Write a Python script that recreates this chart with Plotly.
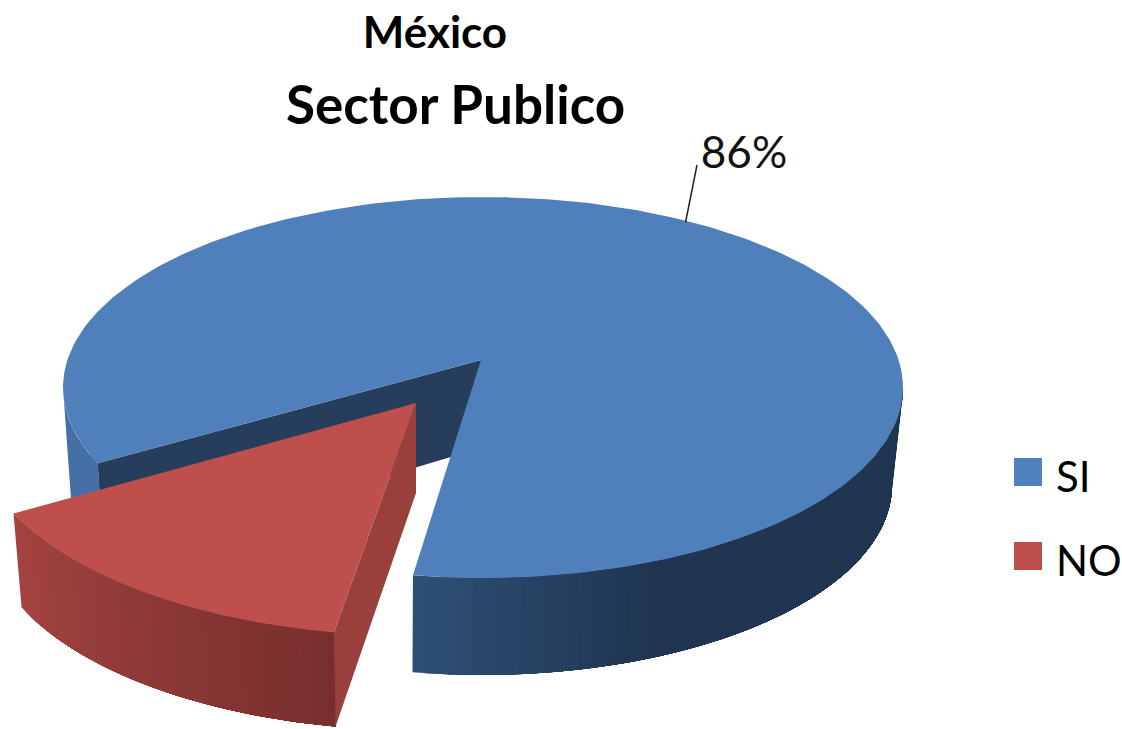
import numpy as np
import plotly.graph_objects as go

# ---- data ----
categories = ["SI", "NO"]
values = [86, 14]
label_text = "86%"
title_main = "México"
title_sub = "Sector Publico"

# ---- drawing constants (3D pie projection) ----
W, H = 1122, 729
CX, CY, RX, RY = 483, 387.5, 420, 190.5      # top ellipse
LCX, LCY, LRX, LRY = 481, 485, 411, 190      # lower ellipse
APEX = (481, 360)
APEX_DEPTH = 88
R_APEX = (416, 403)
R_SX, R_SY = 1.05, 1.07
R_DEPTH, R_SHRINK = 94, 0.02
START = 9.6           # degrees, clockwise from the front of the pie
RED_TRIM = 1.4        # the exploded slice sits slightly differently in perspective
STRETCH = 1.13        # foreshortening of the tilted pie near the front-left
BLUE, RED = "#4F80BC", "#BE4F4C"
INNER, SIDE_LEFT = "#263D5C", "#4570A5"
LEGEND_X, LEGEND_TEXT_X = 1028, 1056
LEGEND_Y = [472, 556]
LEGEND_TEXT_Y = [481, 565]


def top(t):
    t = np.radians(t)
    return CX - RX * np.sin(t), CY + RY * np.cos(t)


def low(t):
    t = np.radians(t)
    return LCX - LRX * np.sin(t), LCY + LRY * np.cos(t)


def red_top(t):
    x, y = top(t)
    return R_APEX[0] + R_SX * (x - APEX[0]), R_APEX[1] + R_SY * (y - APEX[1])


def red_low(t):
    x, y = red_top(t)
    return x + R_SHRINK * (R_APEX[0] - x), y + R_DEPTH


def mix(c1, c2, f):
    a = [int(c1[i:i + 2], 16) for i in (1, 3, 5)]
    b = [int(c2[i:i + 2], 16) for i in (1, 3, 5)]
    return "rgb(%d,%d,%d)" % tuple(round(p + (q - p) * f) for p, q in zip(a, b))


def poly(xs, ys, color, name=None):
    return go.Scatter(
        x=list(xs), y=list(ys), mode="lines", fill="toself", fillcolor=color,
        line=dict(width=0), hoverinfo="skip", name=name, showlegend=False,
    )


span_no = values[1] / sum(values) * 360 * STRETCH
END = START + span_no
RED_START = START + RED_TRIM

fig = go.Figure()

# left outer wall of SI
ts = np.linspace(END, 90, 20)
tx, ty = top(ts)
lx, ly = low(ts)
fig.add_trace(poly(np.r_[tx, lx[::-1]], np.r_[ty, ly[::-1]], SIDE_LEFT))

# front/right outer wall of SI: each strip reaches to the far end and is
# painted over by the next, so no seams appear between the shades
edges = np.linspace(360 + START, 270, 61)
for a, b in zip(edges[:-1], edges[1:]):
    ss = np.linspace(270, a, 80)
    tx, ty = top(ss)
    lx, ly = low(ss)
    tax, _ = top(a)
    xm = (tax - 411) / 240
    color = mix("#2E4F75", "#1F3550", float(np.clip(xm, 0, 1)))
    fig.add_trace(poly(np.r_[tx, lx[::-1]], np.r_[ty, ly[::-1]], color))

# inner cut wall of SI
cx0, cy0 = top(END)
cx1, cy1 = low(END)
fig.add_trace(poly([APEX[0], cx0, cx1, APEX[0]],
                   [APEX[1], cy0, cy1, APEX[1] + APEX_DEPTH], INNER))

# SI top face
ts = np.linspace(END, 360 + START, 300)
tx, ty = top(ts)
fig.add_trace(poly(np.r_[APEX[0], tx], np.r_[APEX[1], ty], BLUE, name=categories[0]))

# NO: outer wall strips, overlapping in the same way
edges = np.linspace(END, RED_START, 41)
for i, a in enumerate(edges[:-1]):
    ss = np.linspace(a, RED_START, 40)
    tx, ty = red_top(ss)
    lx, ly = red_low(ss)
    color = mix("#A44441", "#772F2D", i / (len(edges) - 2))
    fig.add_trace(poly(np.r_[tx, lx[::-1]], np.r_[ty, ly[::-1]], color))

# NO: cut wall on the right
bx0, by0 = red_top(RED_START)
bx1, by1 = red_low(RED_START)
fig.add_trace(poly([R_APEX[0], bx0, bx1, R_APEX[0]],
                   [R_APEX[1], by0, by1, R_APEX[1] + 90], "#9A403C"))

# NO top face
ts = np.linspace(END, RED_START, 80)
tx, ty = red_top(ts)
fig.add_trace(poly(np.r_[R_APEX[0], tx], np.r_[R_APEX[1], ty], RED, name=categories[1]))

# leader line and value label
fig.add_trace(go.Scatter(x=[685.5, 697], y=[222.5, 165], mode="lines",
                         line=dict(color="#222222", width=1.5),
                         hoverinfo="skip", showlegend=False))
fig.add_trace(go.Scatter(x=[744], y=[157], mode="text", text=[label_text],
                         textfont=dict(family="Lato", size=44, color="#111111"),
                         hoverinfo="skip", showlegend=False))

# legend swatches and labels
fig.add_trace(go.Scatter(x=[LEGEND_X] * 2, y=LEGEND_Y, mode="markers",
                         marker=dict(symbol="square", size=28, color=[BLUE, RED],
                                     line=dict(width=0)),
                         hoverinfo="skip", showlegend=False))
fig.add_trace(go.Scatter(x=[LEGEND_TEXT_X] * 2, y=LEGEND_TEXT_Y, mode="text",
                         text=categories, textposition="middle right",
                         textfont=dict(family="Lato", size=42, color="black"),
                         hoverinfo="skip", showlegend=False))

fig.update_layout(
    width=W, height=H, autosize=False,
    margin=dict(l=0, r=0, t=0, b=0),
    paper_bgcolor="white", plot_bgcolor="white",
    showlegend=False,
    xaxis=dict(range=[0, W], visible=False, fixedrange=True),
    yaxis=dict(range=[H, 0], visible=False, fixedrange=True),
    font=dict(family="Lato", color="black"),
    title=dict(text="<b>%s</b>" % title_main, x=435 / W, xanchor="center",
               y=1 - 33 / H, yanchor="middle", font=dict(size=44, family="Lato")),
    annotations=[dict(text="<b>%s</b>" % title_sub, xref="x", yref="y", x=455, y=103,
                      showarrow=False, font=dict(size=53, family="Lato"))],
)
fig.write_html("out.html", config={"displayModeBar": False},
               post_script="document.body.style.margin='0';")
